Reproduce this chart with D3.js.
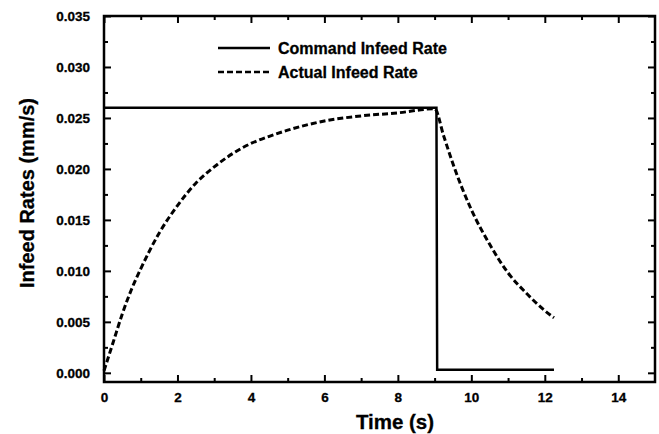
<!DOCTYPE html>
<html>
<head>
<meta charset="utf-8">
<script src="https://cdn.jsdelivr.net/npm/d3@7"></script>
<style>
  body { margin: 0; background: #fff; }
  text { font-family: "Liberation Sans", Arial, sans-serif; font-weight: bold; fill: #000; stroke: #000; stroke-width: 0.3px; }
</style>
</head>
<body>
<svg id="canvas" width="659" height="434"></svg>
<script>
// command infeed rate (step down at ~9 s)
let commandTime = [0, 9.05, 9.07, 12.25];
let commandRate = [0.026, 0.026, 0.0003, 0.0003];

// actual infeed rate
let actualTime = [0, 0.25, 0.5, 0.75, 1.0, 1.5, 2.0, 2.5, 3.0, 3.5, 4.0, 4.5, 5.0, 5.5, 6.0, 7.0, 8.0, 9.0, 9.25, 9.5, 10.0, 10.5, 11.0, 11.5, 12.0, 12.25];
let actualRate = [0.0002, 0.0030, 0.0058, 0.0082, 0.0102, 0.0137, 0.0164, 0.0186, 0.0202, 0.0215, 0.0225, 0.0232, 0.0238, 0.0243, 0.0247, 0.0252, 0.0255, 0.0259, 0.0232, 0.0205, 0.0160, 0.0126, 0.0098, 0.0078, 0.0061, 0.0054];

let xTicks = [0, 2, 4, 6, 8, 10, 12, 14];
let xMinor = [1, 3, 5, 7, 9, 11, 13];
let yTicks = [0, 0.005, 0.010, 0.015, 0.020, 0.025, 0.030, 0.035];
let yMinor = [0.0025, 0.0075, 0.0125, 0.0175, 0.0225, 0.0275, 0.0325];

let legendNames = ["Command Infeed Rate", "Actual Infeed Rate"];

let plot = { left: 104, right: 655, top: 16, bottom: 382 };
let canvas = d3.select("#canvas");

let xScale = d3.scaleLinear().domain([0, 15]).range([plot.left, plot.right]);
let yScale = d3.scaleLinear().domain([-0.0009, 0.035]).range([plot.bottom, plot.top]);

// ticks, all pointing inward
let drawAxis = (axis, tx, ty) => {
  let g = canvas.append("g").attr("transform", "translate(" + tx + "," + ty + ")").call(axis);
  g.select(".domain").remove();
  g.selectAll(".tick line").attr("stroke", "#000").attr("stroke-width", 2);
  return g;
};

let bottom = drawAxis(d3.axisBottom(xScale).tickValues(xTicks).tickSize(-7).tickPadding(10).tickFormat(d3.format("d")), 0, plot.bottom);
bottom.selectAll("text").style("font-size", "13.5px");
drawAxis(d3.axisBottom(xScale).tickValues(xMinor).tickSize(-4).tickFormat(""), 0, plot.bottom);
drawAxis(d3.axisTop(xScale).tickValues(xTicks).tickSize(-7).tickFormat(""), 0, plot.top);
drawAxis(d3.axisTop(xScale).tickValues(xMinor).tickSize(-4).tickFormat(""), 0, plot.top);

let left = drawAxis(d3.axisLeft(yScale).tickValues(yTicks).tickSize(-7).tickPadding(14).tickFormat(d3.format(".3f")), plot.left, 0);
left.selectAll("text").style("font-size", "13.5px");
drawAxis(d3.axisLeft(yScale).tickValues(yMinor).tickSize(-4).tickFormat(""), plot.left, 0);
drawAxis(d3.axisRight(yScale).tickValues(yTicks).tickSize(-7).tickFormat(""), plot.right, 0);
drawAxis(d3.axisRight(yScale).tickValues(yMinor).tickSize(-4).tickFormat(""), plot.right, 0);

canvas.append("rect")
  .attr("x", plot.left).attr("y", plot.top)
  .attr("width", plot.right - plot.left).attr("height", plot.bottom - plot.top)
  .attr("fill", "none").attr("stroke", "#000").attr("stroke-width", 2.5);

let line = d3.line().x((d) => xScale(d[0])).y((d) => yScale(d[1]));
let lineCurve = d3.line().curve(d3.curveMonotoneX).x((d) => xScale(d[0])).y((d) => yScale(d[1]));

canvas.append("path")
  .datum(d3.zip(commandTime, commandRate))
  .attr("d", line)
  .attr("fill", "none").attr("stroke", "#000").attr("stroke-width", 2.5);

canvas.append("path")
  .datum(d3.zip(actualTime, actualRate))
  .attr("d", lineCurve)
  .attr("fill", "none").attr("stroke", "#000").attr("stroke-width", 3)
  .attr("stroke-dasharray", "6,3");

// legend
let legend = canvas.append("g").attr("transform", "translate(218,48)");
legendNames.forEach((name, i) => {
  legend.append("line")
    .attr("x1", 0).attr("x2", 52).attr("y1", i * 24).attr("y2", i * 24)
    .attr("stroke", "#000").attr("stroke-width", 2.5)
    .attr("stroke-dasharray", i == 1 ? "6,3" : null);
  legend.append("text")
    .attr("x", 60).attr("y", i * 24 + 5.5)
    .style("font-size", "16px")
    .text(name);
});

// axis titles
canvas.append("text")
  .attr("x", 395).attr("y", 429)
  .attr("text-anchor", "middle")
  .style("font-size", "20.5px")
  .text("Time (s)");

canvas.append("text")
  .attr("transform", "translate(34,193) rotate(-90)")
  .attr("text-anchor", "middle")
  .style("font-size", "20px")
  .text("Infeed Rates (mm/s)");
</script>
</body>
</html>
